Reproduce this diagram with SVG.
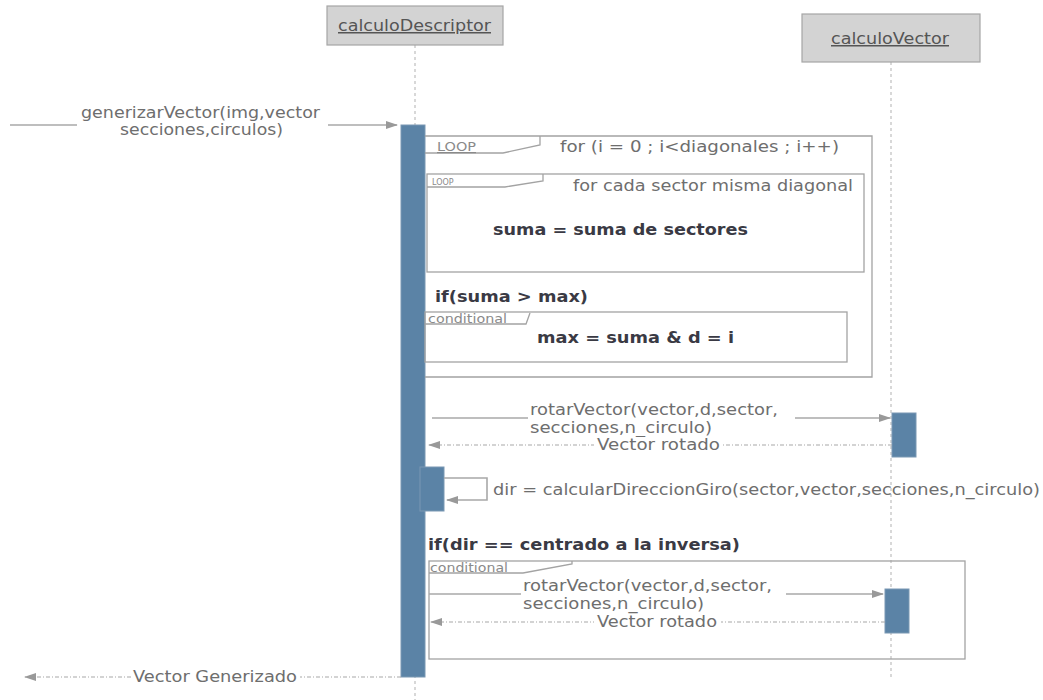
<svg xmlns="http://www.w3.org/2000/svg" width="1043" height="700" viewBox="0 0 1043 700">
  <style>
    .hdr { fill: #d3d3d3; stroke: #a6a6a6; stroke-width: 1.2; }
    .hdrtxt { font-family: "DejaVu Sans", Verdana, sans-serif; font-size: 15px; fill: #555; text-decoration: underline; }
    .life { stroke: #c4c4c4; stroke-width: 1.3; stroke-dasharray: 3 3; fill: none; }
    .act { fill: #5b83a6; stroke: #7b98b3; stroke-width: 1; }
    .msg { stroke: #a8a8a8; stroke-width: 1.6; fill: none; }
    .ret { stroke: #a8a8a8; stroke-width: 1.2; stroke-dasharray: 4 2 1 2; fill: none; }
    .frame { fill: none; stroke: #a3a3a3; stroke-width: 1.3; }
    .lbl { font-family: "DejaVu Sans", Verdana, sans-serif; font-size: 15px; fill: #6e6e6e; }
    .bold { font-family: "DejaVu Sans", Verdana, sans-serif; font-size: 15px; font-weight: bold; fill: #3a3a44; }
    .tab { font-family: "DejaVu Sans", Verdana, sans-serif; font-size: 12px; fill: #8a8a8a; }
    .bg { fill: #ffffff; }
  </style>
  <defs>
    <marker id="arrow" markerWidth="12" markerHeight="8" refX="11" refY="4" orient="auto" markerUnits="userSpaceOnUse">
      <path d="M0,0 L12,4 L0,8 z" fill="#999"/>
    </marker>
  </defs>

  <rect width="1043" height="700" fill="#ffffff"/>

  <!-- lifelines -->
  <g id="lifelines">
    <line class="life" x1="415" y1="45" x2="415" y2="700"/>
    <line class="life" x1="891" y1="62" x2="891" y2="680"/>
  </g>

  <!-- participant: calculoDescriptor -->
  <g id="calculoDescriptor">
    <rect class="hdr" x="327" y="6" width="176" height="39"/>
    <text class="hdrtxt" x="338" y="31" textLength="153" lengthAdjust="spacingAndGlyphs">calculoDescriptor</text>
    <rect class="act" x="401" y="125" width="24" height="552"/>
  </g>

  <!-- participant: calculoVector -->
  <g id="calculoVector">
    <rect class="hdr" x="802" y="14" width="178" height="48"/>
    <text class="hdrtxt" x="831" y="44" textLength="118" lengthAdjust="spacingAndGlyphs">calculoVector</text>
    <rect class="act" x="892" y="413" width="24" height="44"/>
    <rect class="act" x="885" y="589" width="24" height="44"/>
  </g>

  <!-- outer loop fragment -->
  <g id="loopDiagonales">
    <path class="frame" d="M425,136 H872 V377 H425"/>
    <path class="frame" d="M425,153 H503 L540,145 V136"/>
    <text class="tab" x="437" y="151" textLength="39" lengthAdjust="spacingAndGlyphs" style="text-decoration:underline">LOOP</text>
    <text class="lbl" x="560" y="152" textLength="279" lengthAdjust="spacingAndGlyphs">for (i = 0 ; i&lt;diagonales ; i++)</text>
  </g>

  <!-- inner loop fragment -->
  <g id="loopSectores">
    <rect class="frame" x="427" y="174" width="437" height="98"/>
    <path class="frame" d="M427,187 H505 L543,181 V174"/>
    <text class="tab" x="432" y="185" style="font-size:8px">LOOP</text>
    <text class="lbl" x="573" y="191" textLength="280" lengthAdjust="spacingAndGlyphs">for cada sector misma diagonal</text>
    <text class="bold" x="493" y="235" textLength="255" lengthAdjust="spacingAndGlyphs">suma = suma de sectores</text>
  </g>

  <!-- first conditional -->
  <g id="condMax">
    <text class="bold" x="435" y="302" textLength="153" lengthAdjust="spacingAndGlyphs">if(suma &gt; max)</text>
    <rect class="frame" x="425" y="312" width="422" height="50"/>
    <path class="frame" d="M425,324 H526 L530,313"/>
    <text class="tab" x="428" y="323" textLength="79" lengthAdjust="spacingAndGlyphs">conditional</text>
    <text class="bold" x="537" y="343" textLength="197" lengthAdjust="spacingAndGlyphs">max = suma &amp; d = i</text>
  </g>

  <!-- self call activation -->
  <g id="selfCall">
    <rect class="act" x="420" y="467" width="24" height="44"/>
  </g>

  <!-- second conditional -->
  <g id="condInversa">
    <text class="bold" x="428" y="550" textLength="312" lengthAdjust="spacingAndGlyphs">if(dir == centrado a la inversa)</text>
    <rect class="frame" x="429" y="561" width="536" height="98"/>
    <path class="frame" d="M429,573 H523 L572,564 V561"/>
    <text class="tab" x="430" y="572" textLength="78" lengthAdjust="spacingAndGlyphs">conditional</text>
  </g>

  <!-- connectors -->
  <g id="connectors">
    <!-- incoming call -->
    <line class="msg" x1="10" y1="125" x2="397" y2="125" marker-end="url(#arrow)"/>
    <rect class="bg" x="77" y="105" width="251" height="33"/>
    <text class="lbl" x="81" y="118" textLength="239" lengthAdjust="spacingAndGlyphs">generizarVector(img,vector</text>
    <text class="lbl" x="120" y="135" textLength="163" lengthAdjust="spacingAndGlyphs">secciones,circulos)</text>

    <!-- rotarVector #1 -->
    <line class="msg" x1="432" y1="418" x2="890" y2="418" marker-end="url(#arrow)"/>
    <rect class="bg" x="528" y="402" width="267" height="34"/>
    <text class="lbl" x="530" y="415" textLength="248" lengthAdjust="spacingAndGlyphs">rotarVector(vector,d,sector,</text>
    <text class="lbl" x="530" y="433" textLength="182" lengthAdjust="spacingAndGlyphs">secciones,n_circulo)</text>
    <line class="ret" x1="892" y1="445" x2="429" y2="445" marker-end="url(#arrow)"/>
    <rect class="bg" x="594" y="437" width="129" height="16"/>
    <text class="lbl" x="597" y="450" textLength="123" lengthAdjust="spacingAndGlyphs">Vector rotado</text>

    <!-- self message -->
    <path class="msg" d="M444,478 H487 V500 H447" marker-end="url(#arrow)"/>
    <text class="lbl" x="493" y="495" textLength="547" lengthAdjust="spacingAndGlyphs">dir = calcularDireccionGiro(sector,vector,secciones,n_circulo)</text>

    <!-- rotarVector #2 -->
    <line class="msg" x1="429" y1="594" x2="883" y2="594" marker-end="url(#arrow)"/>
    <rect class="bg" x="521" y="578" width="265" height="34"/>
    <text class="lbl" x="523" y="591" textLength="249" lengthAdjust="spacingAndGlyphs">rotarVector(vector,d,sector,</text>
    <text class="lbl" x="523" y="609" textLength="181" lengthAdjust="spacingAndGlyphs">secciones,n_circulo)</text>
    <line class="ret" x1="885" y1="622" x2="431" y2="622" marker-end="url(#arrow)"/>
    <rect class="bg" x="594" y="614" width="127" height="16"/>
    <text class="lbl" x="597" y="627" textLength="120" lengthAdjust="spacingAndGlyphs">Vector rotado</text>

    <!-- result -->
    <line class="ret" x1="401" y1="677" x2="25" y2="677" marker-end="url(#arrow)"/>
    <rect class="bg" x="131" y="669" width="169" height="16"/>
    <text class="lbl" x="133" y="682" textLength="164" lengthAdjust="spacingAndGlyphs">Vector Generizado</text>
  </g>
</svg>
